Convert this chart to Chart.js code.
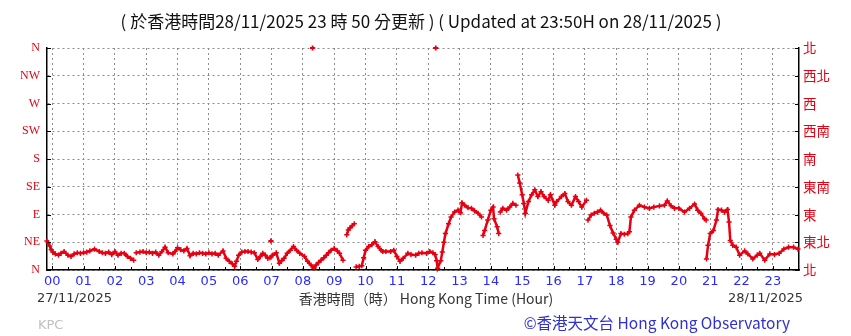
<!DOCTYPE html>
<html>
<head>
<meta charset="utf-8">
<script src="https://cdn.jsdelivr.net/npm/chart.js@4/dist/chart.umd.min.js"></script>
<style>
  html, body { margin: 0; padding: 0; background: #ffffff; }
  #wrap { width: 851px; height: 336px; position: relative; }
</style>
</head>
<body>
<div id="wrap"><canvas id="c" width="851" height="336"></canvas></div>
<script>
// ---- Data ----
const hourLabels = ['00','01','02','03','04','05','06','07','08','09','10','11',
                    '12','13','14','15','16','17','18','19','20','21','22','23'];
const dirLabelsEn = ['N','NE','E','SE','S','SW','W','NW','N'];
const dirLabelsZh = ['北','東北','東','東南','南','西南','西','西北','北'];

// Time in hours (Hong Kong time, 28/11/2025; negative = 27/11 evening), null direction = break
const times = [
  -0.17,-0.13,-0.08,-0.03,0.02,0.1,0.2,0.28,0.38,0.5,0.6,0.7,0.8,0.9,1.0,1.1,1.2,1.35,1.5,1.6,1.7,1.8,1.9,2.0,2.1,2.2,2.3,2.4,2.5,2.6,
  2.64,
  2.68,2.8,2.9,3.0,3.1,3.2,3.3,3.4,3.5,3.6,3.7,3.85,3.92,4.0,4.1,4.2,4.3,4.4,4.5,4.6,4.7,4.8,4.9,5.0,5.1,5.2,5.3,5.45,5.55,5.65,5.75,5.82,5.88,5.95,
  6.05,6.15,6.25,6.35,6.45,6.56,6.64,6.72,6.8,6.88,6.95,7.04,7.15,7.25,7.32,7.4,7.5,7.6,7.7,7.8,7.9,8.05,8.15,8.26,8.35,8.42,8.5,8.58,8.67,8.75,8.82,8.9,9.0,9.1,9.17,9.28,
  9.34,
  9.4,9.45,9.5,9.58,9.64,
  9.67,
  9.7,9.8,9.88,9.94,10.0,10.1,10.2,10.3,10.4,10.5,10.55,10.65,10.8,10.9,11.0,11.1,11.2,11.35,11.45,11.6,11.7,11.8,11.95,12.05,12.15,12.22,12.27,12.3,12.4,12.45,12.5,12.55,12.65,12.73,12.84,12.95,13.03,13.08,13.16,13.27,13.38,13.48,13.59,13.7,
  13.72,
  13.75,13.8,13.9,14.0,14.07,14.1,14.2,14.25,
  14.27,
  14.3,14.38,14.5,14.6,14.7,14.8,
  14.83,
  14.86,14.92,15.0,15.05,15.1,15.2,15.3,15.4,15.5,15.6,15.7,15.83,15.9,16.04,16.1,16.25,16.36,16.46,16.57,16.7,16.8,16.9,17.05,
  17.08,
  17.1,17.2,17.3,17.4,17.5,17.6,17.7,17.8,17.9,18.0,18.05,18.15,18.26,18.37,18.42,18.47,18.58,18.74,18.9,19.06,19.2,19.38,19.54,19.63,19.75,19.86,20.0,20.18,20.34,20.5,20.6,20.7,20.82,20.87,
  20.875,
  20.88,20.93,21.0,21.1,21.2,21.25,21.36,21.46,21.55,21.6,21.64,21.72,21.83,21.94,22.1,22.2,22.36,22.5,22.58,22.74,22.9,23.05,23.2,23.35,23.5,23.66,23.8
];
const directions = [
  47,44,39,33,29,26,24,27,30,24,22,26,28,27,28,29,31,34,30,28,27,29,25,30,24,27,27,22,19,16,
  null,
  28,29,30,28,29,27,29,24,30,37,28,26,30,36,33,31,35,23,27,26,28,27,26,28,26,27,24,31,19,14,10,6,14,24,
  29,30,30,29,28,17,22,27,24,19,20,24,28,11,15,19,27,32,38,32,27,22,14,8,3,8,12,16,20,24,28,32,35,31,27,16,
  null,
  57,65,68,72,75,
  null,
  5,6,7,20,32,38,41,46,38,32,30,30,30,32,22,14,19,27,25,24,27,28,27,30,28,25,15,3,15,29,45,59,75,86,94,97,93,109,105,101,100,96,92,86,
  null,
  56,64,81,97,102,83,70,59,
  null,
  94,100,97,102,108,105,
  null,
  154,141,122,108,92,111,122,130,119,127,119,113,122,105,111,119,124,111,105,119,111,102,113,
  null,
  81,89,92,94,97,92,89,72,60,50,45,59,58,59,62,86,97,105,102,100,102,104,105,112,104,100,100,94,100,107,97,92,83,81,
  null,
  18,40,59,64,81,98,97,94,98,78,48,40,37,24,31,26,18,24,27,16,26,25,27,34,37,37,34
];
const isolatedTimes = [6.98, 8.31, 12.24];
const isolatedDirs = [47, 360, 360];

const RED = '#e60012';
const hourTicks = [];
for (let i = 0; i < 48; i++) hourTicks.push(i / 2);
const dirTicks = dirLabelsEn.map((_, i) => i * 45);

const chartArea = { left: 47, right: 799, top: 48, bottom: 270 };

const decorPlugin = {
  id: 'decor',
  afterDraw(chart) {
    const ctx = chart.ctx;
    const x = chart.scales.x, y = chart.scales.y;
    ctx.save();
    // inner tick marks
    ctx.strokeStyle = '#000';
    ctx.lineWidth = 1;
    ctx.beginPath();
    dirTicks.forEach(v => {
      const py = Math.round(y.getPixelForValue(v)) + 0.5;
      ctx.moveTo(chart.chartArea.left, py); ctx.lineTo(chart.chartArea.left + 4, py);
      ctx.moveTo(chart.chartArea.right, py); ctx.lineTo(chart.chartArea.right - 4, py);
    });
    hourTicks.forEach(v => {
      const px = Math.round(x.getPixelForValue(v)) + 0.5;
      const len = Number.isInteger(v) ? 4 : 3;
      ctx.moveTo(px, chart.chartArea.bottom); ctx.lineTo(px, chart.chartArea.bottom - len);
    });
    ctx.stroke();

    // title
    ctx.fillStyle = '#111';
    ctx.font = '17px "Noto Sans CJK TC", "Noto Sans", sans-serif';
    ctx.textAlign = 'center';
    ctx.textBaseline = 'middle';
    ctx.fillText('( 於香港時間28/11/2025 23 時 50 分更新 ) ( Updated at 23:50H on 28/11/2025 )', 421, 22);

    // bottom texts
    ctx.fillStyle = '#333';
    ctx.font = '13px "DejaVu Sans", sans-serif';
    ctx.textAlign = 'left';
    ctx.fillText('27/11/2025', 37, 299);
    ctx.textAlign = 'right';
    ctx.fillText('28/11/2025', 803, 299);
    ctx.textAlign = 'center';
    ctx.font = '14px "Noto Sans CJK TC", sans-serif';
    ctx.fillText('香港時間（時） Hong Kong Time (Hour)', 426, 299);

    ctx.fillStyle = '#c0c0c0';
    ctx.textAlign = 'left';
    ctx.font = '13px "DejaVu Sans", sans-serif';
    ctx.fillText('KPC', 38, 326);

    ctx.fillStyle = '#3030d0';
    ctx.textAlign = 'right';
    ctx.font = '15.5px "Noto Sans CJK TC", sans-serif';
    ctx.fillText('©香港天文台 Hong Kong Observatory', 790, 323);
    ctx.restore();
  }
};

const mainData = times.map((t, i) => ({ x: t, y: directions[i] }));
const isoData = isolatedTimes.map((t, i) => ({ x: t, y: isolatedDirs[i] }));

new Chart(document.getElementById('c'), {
  type: 'line',
  data: {
    datasets: [
      {
        data: mainData,
        borderColor: RED,
        backgroundColor: RED,
        borderWidth: 2.5,
        pointStyle: 'cross',
        pointRadius: 2.6,
        pointBorderWidth: 1.5,
        pointBorderColor: RED,
        spanGaps: false,
        tension: 0,
        clip: false
      },
      {
        data: isoData,
        showLine: false,
        borderColor: RED,
        backgroundColor: RED,
        pointStyle: 'cross',
        pointRadius: 2.6,
        pointBorderWidth: 1.8,
        clip: false
      }
    ]
  },
  options: {
    responsive: false,
    animation: false,
    events: [],
    layout: { padding: { top: chartArea.top, bottom: 0, left: 0, right: 0 } },
    plugins: { legend: { display: false }, tooltip: { enabled: false }, title: { display: false } },
    scales: {
      x: {
        type: 'linear',
        min: -1 / 6,
        max: 23 + 5 / 6,
        afterBuildTicks: s => { s.ticks = hourTicks.map(v => ({ value: v })); },
        afterFit: s => { s.height = 336 - chartArea.bottom; },
        grid: {
          drawTicks: false,
          color: c => (c.tick && Number.isInteger(c.tick.value)) ? '#8c8c8c' : 'rgba(0,0,0,0)',
          lineWidth: 1
        },
        border: { display: true, color: '#000', width: 1.5, dash: [2, 3] },
        ticks: {
          autoSkip: false,
          maxRotation: 0,
          padding: 4,
          color: '#2b2bff',
          font: { family: '"DejaVu Sans", sans-serif', size: 13 },
          callback: v => Number.isInteger(v) ? hourLabels[v] : ''
        }
      },
      y: {
        type: 'linear',
        position: 'left',
        min: 0,
        max: 360,
        afterBuildTicks: s => { s.ticks = dirTicks.map(v => ({ value: v })); },
        afterFit: s => { s.width = chartArea.left; },
        grid: { drawTicks: false, color: '#8c8c8c', lineWidth: 1 },
        border: { display: true, color: '#000', width: 1.5, dash: [2, 3] },
        ticks: {
          padding: 7,
          color: RED,
          font: { family: '"Liberation Serif", serif', size: 12 },
          callback: v => dirLabelsEn[Math.round(v / 45)]
        }
      },
      y2: {
        type: 'linear',
        position: 'right',
        min: 0,
        max: 360,
        afterBuildTicks: s => { s.ticks = dirTicks.map(v => ({ value: v })); },
        afterFit: s => { s.width = 851 - chartArea.right; },
        grid: { drawOnChartArea: false, drawTicks: false },
        border: { display: true, color: '#000', width: 1.5 },
        ticks: {
          padding: 4,
          color: RED,
          font: { family: '"Noto Sans CJK TC", sans-serif', size: 13.5 },
          callback: v => dirLabelsZh[Math.round(v / 45)]
        }
      }
    }
  },
  plugins: [decorPlugin]
});
</script>
</body>
</html>
